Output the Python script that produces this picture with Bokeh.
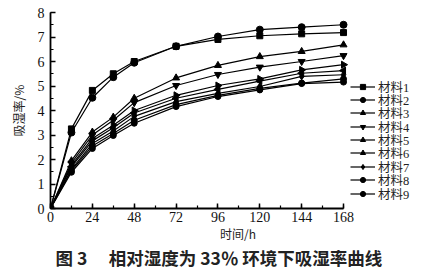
import math
from bokeh.plotting import figure
from bokeh.models import Legend, LegendItem, SingleIntervalTicker, Title, Range1d
from bokeh.embed import file_html
from bokeh.resources import INLINE

hours = [0, 12, 24, 36, 48, 72, 96, 120, 144, 168]
m1 = [0, 3.25, 4.82, 5.50, 6.00, 6.62, 6.90, 7.05, 7.13, 7.18]
m2 = [0, 3.10, 4.52, 5.36, 5.95, 6.62, 7.02, 7.30, 7.40, 7.50]
m3 = [0, 1.95, 3.12, 3.73, 4.50, 5.33, 5.84, 6.20, 6.41, 6.68]
m4 = [0, 1.85, 3.00, 3.60, 4.32, 5.02, 5.47, 5.77, 6.00, 6.24]
m5 = [0, 1.70, 2.76, 3.30, 3.90, 4.50, 4.86, 5.20, 5.52, 5.63]
m6 = [0, 1.76, 2.86, 3.40, 4.00, 4.62, 5.02, 5.29, 5.66, 5.87]
m7 = [0, 1.60, 2.65, 3.16, 3.76, 4.36, 4.70, 4.98, 5.39, 5.46]
m8 = [0, 1.55, 2.55, 3.06, 3.60, 4.24, 4.62, 4.90, 5.12, 5.29]
m9 = [0, 1.48, 2.45, 2.98, 3.48, 4.16, 4.57, 4.84, 5.10, 5.16]
series = [m1, m2, m3, m4, m5, m6, m7, m8, m9]
names = ["材料1", "材料2", "材料3", "材料4", "材料5", "材料6", "材料7", "材料8", "材料9"]
markers = ["square", "circle", "triangle", "inverted_triangle", "triangle", "triangle", "diamond", "circle", "circle"]
angles = [0, 0, 0, 0, math.pi / 2, -math.pi / 2, 0, 0, 0]
msizes = [6, 7, 7, 7, 7, 7, 7, 6, 6]

CJK = "Noto Sans CJK SC"
SERIF = "Liberation Serif"
MIXED = "'Liberation Serif', 'Noto Sans CJK SC'"

X_MAX = 168
X_VIEW_END = 215.0  # extra room on the right of the frame for the legend
LEG_X = 300
LEG_TOP_Y = 112.5   # screen px above frame bottom for first legend entry
LEG_PITCH = 13.4

p = figure(width=429, height=271, output_backend="svg", toolbar_location=None,
           x_range=Range1d(0, X_VIEW_END), y_range=Range1d(0, 8),
           min_border_left=50, min_border_right=4, min_border_top=12, min_border_bottom=63)
p.outline_line_color = None
p.grid.visible = False
p.background_fill_color = "white"

for i, (s, name, mk, ang, ms) in enumerate(zip(series, names, markers, angles, msizes)):
    r1 = p.line(hours, s, line_color="black", line_width=1.2)
    r2 = p.scatter(hours, s, marker=mk, angle=ang, size=ms, fill_color="black", line_color="black")
    leg = Legend(items=[LegendItem(label=name, renderers=[r1, r2])],
                 location=(LEG_X, round(LEG_TOP_Y - LEG_PITCH * i)),
                 glyph_width=25, glyph_height=13, label_height=13, spacing=0,
                 padding=0, margin=0, border_line_color=None, background_fill_alpha=0,
                 label_text_font=MIXED, label_text_font_size="12.5px", label_standoff=3,
                 label_text_line_height=1.0, label_text_color="#222222")
    p.add_layout(leg, "center")

xa = p.xaxis[0]
xa.ticker = SingleIntervalTicker(interval=24, num_minor_ticks=2)
xa.bounds = (0, X_MAX)
ya = p.yaxis[0]
ya.ticker = SingleIntervalTicker(interval=1, num_minor_ticks=2)
for ax in (xa, ya):
    ax.axis_line_width = 1.8
    ax.axis_line_color = "black"
    ax.major_tick_in = 5
    ax.major_tick_out = 0
    ax.minor_tick_in = 3
    ax.minor_tick_out = 0
    ax.major_tick_line_width = 1.5
    ax.minor_tick_line_width = 1.2
    ax.major_tick_line_color = "black"
    ax.minor_tick_line_color = "black"
    ax.major_label_text_font = SERIF
    ax.major_label_text_font_size = "14px"
    ax.major_label_text_color = "#111111"
    ax.axis_label_text_font = CJK
    ax.axis_label_text_font_style = "normal"
    ax.axis_label_text_color = "#222222"

xa.axis_label = "时间/h"
xa.axis_label_text_font_size = "12px"
xa.axis_label_standoff = 0
xa.major_label_standoff = 3
ya.axis_label = "吸湿率/%"
ya.axis_label_text_font_size = "12px"
ya.axis_label_standoff = 8
ya.major_label_standoff = 6

title = Title(text="图 3　 相对湿度为 33％ 环境下吸湿率曲线", align="left", offset=5,
              text_font=CJK, text_font_size="17.5px", text_font_style="bold",
              vertical_align="top",
              text_color="#222222", standoff=0)
p.add_layout(title, "below")

open("out.html", "w").write(file_html(p, INLINE))
